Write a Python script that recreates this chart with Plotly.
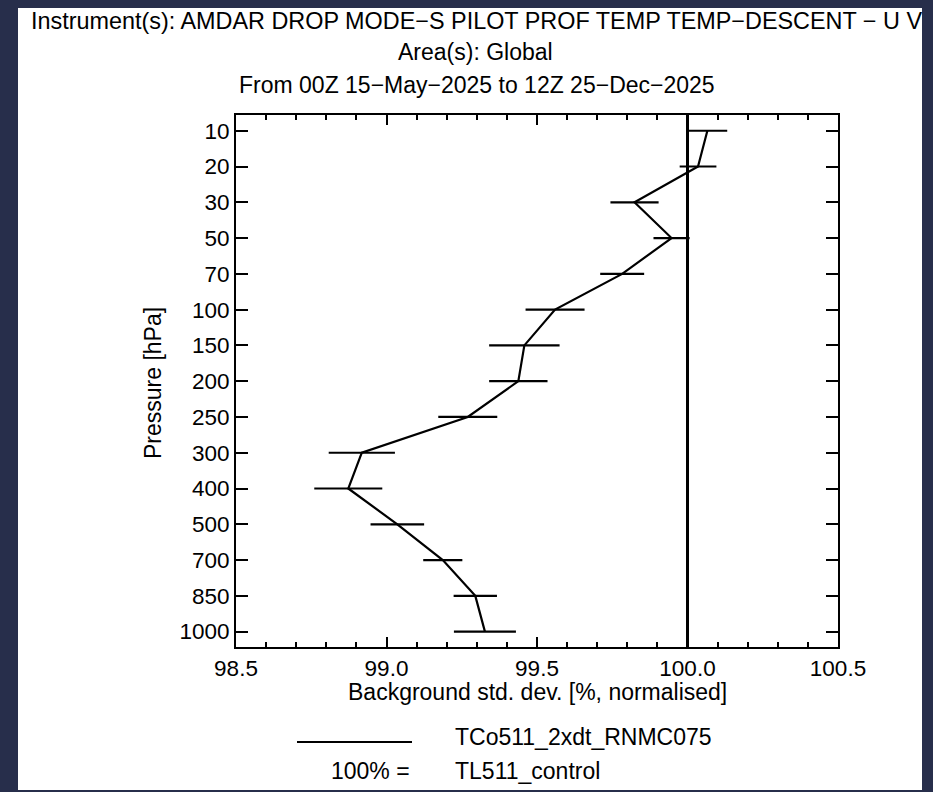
import plotly.graph_objects as go

# Pressure levels (hPa), top of atmosphere first
levels = ["10", "20", "30", "50", "70", "100", "150", "200", "250",
          "300", "400", "500", "700", "850", "1000"]

# Normalised background std. dev. of the experiment (% of control)
bg_stddev = [100.066, 100.035, 99.824, 99.947, 99.783, 99.560, 99.458, 99.438,
             99.270, 98.918, 98.873, 99.036, 99.187, 99.295, 99.327]

# Half-width of the uncertainty bar at each level
bg_err = [0.066, 0.061, 0.080, 0.060, 0.073, 0.098, 0.117, 0.097,
          0.098, 0.110, 0.113, 0.089, 0.065, 0.072, 0.103]

control_value = 100.0
x_range = [98.5, 100.5]
x_ticks = [98.5, 99.0, 99.5, 100.0, 100.5]

exp_name = "TCo511_2xdt_RNMC075"
ctrl_name = "TL511_control"

W, H = 933, 792
ML, MR, MT, MB = 236, 95, 115, 145
PW, PH = W - ML - MR, H - MT - MB
FONT = "Liberation Sans, Arial, Helvetica, sans-serif"
FRAME = "#272e4b"


def px(x):
    return (x - ML) / PW


def py(y):
    return (H - MB - y) / PH


fig = go.Figure()

fig.add_trace(go.Scatter(
    x=bg_stddev, y=levels, mode="lines",
    line=dict(color="black", width=2.2),
    error_x=dict(type="data", array=bg_err, symmetric=True,
                 width=0, thickness=2.2, color="black"),
    name=exp_name, showlegend=False,
))

# reference line for the control experiment
fig.add_shape(type="line", xref="x", yref="paper",
              x0=control_value, x1=control_value, y0=0, y1=1,
              line=dict(color="black", width=3))

# white page on the dark frame
fig.add_shape(type="rect", xref="paper", yref="paper", layer="below",
              x0=px(18), x1=px(922), y0=py(790), y1=py(8),
              fillcolor="white", line=dict(width=0))

# legend sample line
fig.add_shape(type="line", xref="paper", yref="paper",
              x0=px(297), x1=px(412), y0=py(742), y1=py(742),
              line=dict(color="black", width=2.2))

txt = dict(family=FONT, size=23, color="black")
ann = [
    dict(text="Instrument(s): AMDAR DROP MODE\u2212S PILOT PROF TEMP TEMP\u2212DESCENT \u2212 U V",
         x=px(476), y=py(21), font=dict(family=FONT, size=23.4, color="black")),
    dict(text="Area(s): Global", x=px(475), y=py(52)),
    dict(text="From 00Z 15\u2212May\u22122025 to 12Z 25\u2212Dec\u22122025", x=px(477), y=py(85)),
    dict(text="Background std. dev. [%, normalised]", x=px(537), y=py(692)),
    dict(text="Pressure [hPa]", x=px(153), y=py(383), textangle=-90),
    dict(text=exp_name, x=px(453), y=py(737), xanchor="left"),
    dict(text="100% =", x=px(412), y=py(771), xanchor="right"),
    dict(text=ctrl_name, x=px(453), y=py(771), xanchor="left"),
]
for a in ann:
    a.setdefault("xanchor", "center")
    a.setdefault("font", txt)
    fig.add_annotation(xref="paper", yref="paper", yanchor="middle",
                       showarrow=False, **a)

axis_common = dict(showline=True, linecolor="black", linewidth=2,
                   mirror="ticks", ticks="inside", tickcolor="black",
                   tickwidth=2, showgrid=False, zeroline=False,
                   tickfont=dict(family=FONT, size=22.5, color="black"))

fig.update_xaxes(range=x_range, tickvals=x_ticks,
                 ticktext=[f"{v:.1f}" for v in x_ticks], ticklen=10,
                 minor=dict(ticks="inside", ticklen=5, dtick=0.1,
                            tickcolor="black", tickwidth=2, showgrid=False),
                 **axis_common)
fig.update_yaxes(type="category", categoryorder="array", categoryarray=levels,
                 range=[14.43, -0.44], ticklen=12, **axis_common)

fig.update_layout(
    width=W, height=H,
    margin=dict(l=ML, r=MR, t=MT, b=MB, pad=0),
    paper_bgcolor=FRAME, plot_bgcolor="white",
    showlegend=False,
    font=dict(family=FONT, color="black"),
)

fig.write_html("out.html")
